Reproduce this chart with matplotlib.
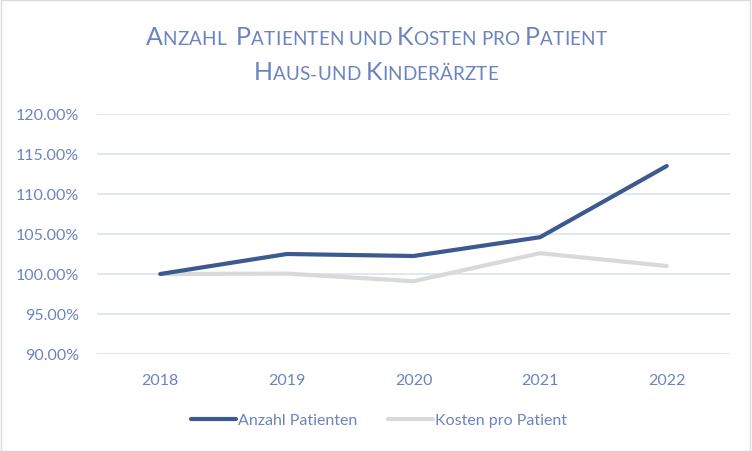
import matplotlib.pyplot as plt
from matplotlib.offsetbox import TextArea, HPacker, VPacker, AnchoredOffsetbox
from matplotlib.patches import Rectangle
from matplotlib.ticker import FuncFormatter

years = ['2018', '2019', '2020', '2021', '2022']
anzahl = [100.0, 102.5, 102.25, 104.6, 113.5]
kosten = [100.0, 100.05, 99.1, 102.6, 101.0]
title_lines = ['Anzahl  Patienten und Kosten pro Patient', 'Haus-und Kinderärzte']

txtcol = '#6b83bf'
font = 'Lato'

fig = plt.figure(figsize=(7.52, 4.52), dpi=100)
ax = fig.add_axes([97/752, 1-355/452, (730-97)/752, (355-115)/452])

x = range(len(years))
ax.plot(x, anzahl, color='#3c5a8f', lw=3, solid_capstyle='round', solid_joinstyle='round', label='Anzahl Patienten', zorder=3)
ax.plot(x, kosten, color='#d9d9d9', lw=3, solid_capstyle='round', solid_joinstyle='round', label='Kosten pro Patient', zorder=2)

ax.set_xlim(-0.5, 4.5)
ax.set_ylim(90, 120)
ax.set_yticks([90, 95, 100, 105, 110, 115, 120])
ax.yaxis.set_major_formatter(FuncFormatter(lambda v, p: '%.2f%%' % v))
ax.set_xticks(list(x))
ax.set_xticklabels(years)
ax.grid(axis='y', color='#d9e1f2', lw=1.2)
ax.set_axisbelow(True)
for s in ax.spines.values():
    s.set_visible(False)
ax.tick_params(length=0, labelsize=11.5, labelcolor=txtcol, pad=13)
ax.tick_params(axis='x', pad=14)
for lab in ax.get_xticklabels() + ax.get_yticklabels():
    lab.set_family(font)

# small caps title
def smallcaps(line):
    parts = []
    for ch in line:
        if ch.isupper():
            parts.append(TextArea(ch, textprops=dict(size=18, color=txtcol, family=font)))
        else:
            parts.append(TextArea(ch.upper(), textprops=dict(size=13.6, color=txtcol, family=font)))
    return HPacker(children=parts, pad=0, sep=0.1, align='baseline')

box = VPacker(children=[smallcaps(l) for l in title_lines], pad=0, sep=9, align='center')
anch = AnchoredOffsetbox(loc='center', child=box, frameon=False,
                         bbox_to_anchor=(376/752, 1-55/452), bbox_transform=fig.transFigure, borderpad=0)
fig.add_artist(anch)

leg = fig.legend(loc='center', bbox_to_anchor=(379/752, 1-421/452), ncol=2, frameon=False,
                 handlelength=2.8, handletextpad=0.15, columnspacing=1.9,
                 prop=dict(family=font, size=11.5))
for t in leg.get_texts():
    t.set_color(txtcol)

fig.add_artist(Rectangle((0.001, 0.001), 0.997, 0.997, transform=fig.transFigure,
                         fill=False, edgecolor='#d9d9d9', lw=1))

fig.savefig('out.png', dpi=100)
